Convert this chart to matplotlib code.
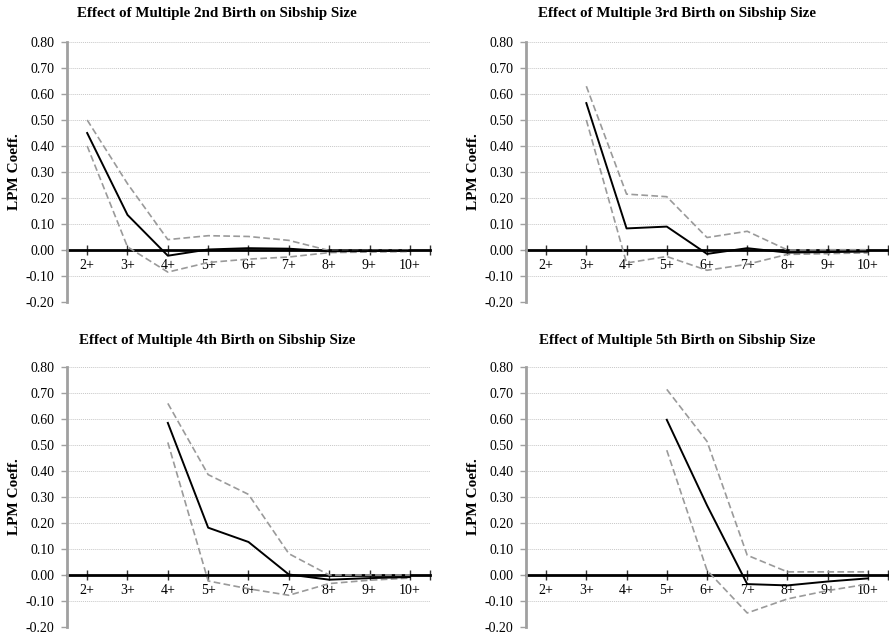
import numpy as np
import matplotlib
matplotlib.use("Agg")
import matplotlib.pyplot as plt

plt.rcParams['font.family'] = ['Liberation Serif', 'DejaVu Serif']

# ─── Data ────────────────────────────────────────────────────────────────────
categories = ['2+', '3+', '4+', '5+', '6+', '7+', '8+', '9+', '10+']
nan = np.nan

titles = [
    'Effect of Multiple 2nd Birth on Sibship Size',
    'Effect of Multiple 3rd Birth on Sibship Size',
    'Effect of Multiple 4th Birth on Sibship Size',
    'Effect of Multiple 5th Birth on Sibship Size',
]

coef_2nd  = [0.450, 0.135, -0.022, 0.002, 0.007, 0.005, -0.005, -0.004, -0.003]
upper_2nd = [0.500, 0.255, 0.040, 0.055, 0.052, 0.037, -0.002, -0.002, -0.001]
lower_2nd = [0.400, 0.012, -0.085, -0.048, -0.035, -0.027, -0.010, -0.008, -0.006]

coef_3rd  = [nan, 0.565, 0.083, 0.090, -0.015, 0.007, -0.010, -0.008, -0.006]
upper_3rd = [nan, 0.630, 0.215, 0.205, 0.048, 0.072, 0.000, 0.001, 0.001]
lower_3rd = [nan, 0.500, -0.050, -0.025, -0.078, -0.055, -0.017, -0.014, -0.011]

coef_4th  = [nan, nan, 0.585, 0.182, 0.127, 0.002, -0.018, -0.012, -0.008]
upper_4th = [nan, nan, 0.660, 0.386, 0.310, 0.082, 0.000, 0.000, 0.000]
lower_4th = [nan, nan, 0.510, -0.023, -0.053, -0.078, -0.033, -0.020, -0.012]

coef_5th  = [nan, nan, nan, 0.597, 0.268, -0.035, -0.040, -0.025, -0.013]
upper_5th = [nan, nan, nan, 0.714, 0.514, 0.076, 0.012, 0.012, 0.012]
lower_5th = [nan, nan, nan, 0.480, 0.018, -0.146, -0.092, -0.060, -0.035]

panels = [
    (coef_2nd, upper_2nd, lower_2nd),
    (coef_3rd, upper_3rd, lower_3rd),
    (coef_4th, upper_4th, lower_4th),
    (coef_5th, upper_5th, lower_5th),
]

# ─── Layout (pixel boxes -> figure fractions) ────────────────────────────────
W, H = 889, 635
ax_rects = [
    (67, 42, 430, 302),
    (526, 42, 888, 302),
    (67, 367, 430, 627),
    (526, 367, 888, 627),
]
title_pos = [(217, 14), (677, 14), (217, 340), (677, 340)]

fig = plt.figure(figsize=(W / 100, H / 100), dpi=100)
x = np.arange(len(categories))

for i, (coef, up, lo) in enumerate(panels):
    l, t, r, b = ax_rects[i]
    ax = fig.add_axes([l / W, 1 - b / H, (r - l) / W, (b - t) / H])

    ax.plot(x, up, color='#9a9a9a', lw=1.2, dashes=(4, 2))
    ax.plot(x, lo, color='#9a9a9a', lw=1.2, dashes=(4, 2))
    ax.plot(x, coef, color='black', lw=1.4)

    ax.set_xlim(-0.5, 8.5)
    ax.set_ylim(-0.2, 0.8)
    yt = np.arange(-0.2, 0.81, 0.1)
    ax.set_yticks(yt)
    ax.set_yticklabels([f'{v:.2f}' for v in yt], fontsize=10)
    ax.yaxis.grid(True, color='#c8c8c8', lw=0.7, ls=(0, (1, 1)))
    ax.set_axisbelow(True)

    ax.spines['top'].set_visible(False)
    ax.spines['right'].set_visible(False)
    ax.spines['left'].set_color('#a0a0a0')
    ax.spines['left'].set_linewidth(2)
    ax.spines['bottom'].set_position(('data', 0))
    ax.spines['bottom'].set_color('black')
    ax.spines['bottom'].set_linewidth(2)
    ax.spines['bottom'].set_zorder(1.5)

    ax.set_xticks(list(x) + [8.5])
    ax.set_xticklabels(categories + [''], fontsize=10)
    ax.tick_params(axis='x', direction='inout', length=7, width=1,
                   color='#333333', pad=3)
    ax.tick_params(axis='y', direction='out', length=4, width=1,
                   color='#a0a0a0', pad=5)

    ax.set_ylabel('LPM Coeff.', fontsize=11, fontweight='bold')
    ax.yaxis.set_label_coords(-0.127, 0.5)

    tx, ty = title_pos[i]
    fig.text(tx / W, 1 - ty / H, titles[i], ha='center', va='center',
             fontsize=10.8, fontweight='bold')

fig.savefig('out.png', dpi=100)
